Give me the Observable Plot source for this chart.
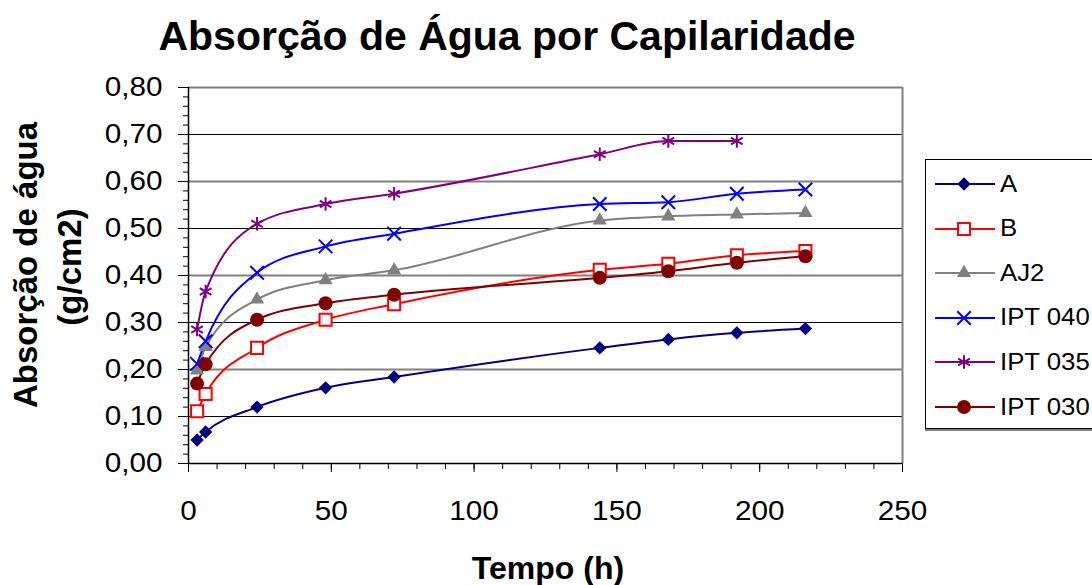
<!DOCTYPE html>
<html><head><meta charset="utf-8">
<script src="https://cdn.jsdelivr.net/npm/d3@7"></script>
<script src="https://cdn.jsdelivr.net/npm/@observablehq/plot@0.6"></script>
<style>
html,body{margin:0;padding:0;background:#fff;overflow:hidden;}
#wrap{position:relative;width:1092px;height:585px;font-family:Arial,"Liberation Sans",sans-serif;}
#chart{position:absolute;left:0;top:0;}
#overlay{position:absolute;left:0;top:0;pointer-events:none;}
#legend{position:absolute;left:925px;top:159px;width:200px;height:268px;border:1px solid #000;box-shadow:0 2px 0 #808080;background:#fff;}
.lg{position:absolute;left:0;height:40px;display:flex;align-items:center;}
.lg span{display:inline-block;font-size:23px;color:#000;margin-left:4px;white-space:nowrap;transform:scaleX(1.12);transform-origin:left center;}
</style></head><body>
<div id="wrap"><div id="chart"></div><svg id="overlay" width="1092" height="585"></svg><div id="legend"></div></div>
<script>
const times = [3, 6, 24, 48, 72, 144, 168, 192, 216];
const seriesNames = ["A", "B", "AJ2", "IPT 040", "IPT 035", "IPT 030"];
const valsA = [0.050, 0.067, 0.120, 0.161, 0.184, 0.246, 0.264, 0.278, 0.287];
const valsB = [0.111, 0.148, 0.246, 0.306, 0.339, 0.412, 0.425, 0.443, 0.452];
const valsAJ2 = [0.198, 0.248, 0.349, 0.390, 0.411, 0.517, 0.526, 0.530, 0.533];
const valsIPT040 = [0.212, 0.260, 0.406, 0.462, 0.489, 0.552, 0.556, 0.574, 0.583];
const valsIPT035 = [0.285, 0.366, 0.510, 0.552, 0.574, 0.658, 0.686, 0.686];
const valsIPT030 = [0.170, 0.211, 0.306, 0.341, 0.359, 0.395, 0.409, 0.427, 0.441];
const seriesValues = [valsA, valsB, valsAJ2, valsIPT040, valsIPT035, valsIPT030];
const colors = ["#000080", "#FF0000", "#808080", "#0000FF", "#800080", "#800000"];
const symbolNames = ["diamond2", "square", "triangle2", "times", "asterisk", "circle"];
const xTicks = [0, 50, 100, 150, 200, 250];
const yTicks = [0, 0.1, 0.2, 0.3, 0.4, 0.5, 0.6, 0.7, 0.8];
const titleText = "Absorção de Água por Capilaridade";
const yTitleLines = ["Absorção de água", "(g/cm2)"];
const xTitleText = "Tempo (h)";

const FONT = 'Arial, "Liberation Sans", sans-serif';
const xDomain = [xTicks[0], xTicks[xTicks.length - 1]];
const yDomain = [yTicks[0], yTicks[yTicks.length - 1]];
const xMinor = d3.range(xDomain[0], xDomain[1] + 0.001, 10);
const yMinor = d3.range(0, 41).map(i => i * 0.02);
const fmt = v => d3.format(".2f")(v).replace(".", ",");

function markStyle(i) {
  const s = symbolNames[i], c = colors[i];
  if (s === "square") return {fill: "white", stroke: c, strokeWidth: 2, r: 6.8};
  if (s === "times") return {fill: "none", stroke: c, strokeWidth: 2, r: 6.2};
  if (s === "asterisk") return {fill: "none", stroke: c, strokeWidth: 2, r: 6.4};
  if (s === "circle") return {fill: c, stroke: "none", r: 7};
  if (s === "triangle2") return {fill: c, stroke: "none", r: 6.8};
  return {fill: c, stroke: "none", r: 6};
}

const data = [];
seriesNames.forEach((name, i) => {
  seriesValues[i].forEach((v, j) => data.push({series: name, t: times[j], v}));
});

const gridOdd = yTicks.filter((d, i) => i % 2 === 1);
const gridEven = yTicks.filter((d, i) => i % 2 === 0 && i > 0);

const marks = [
  Plot.ruleY(gridOdd, {stroke: "#000", strokeWidth: 1}),
  Plot.ruleY(gridEven, {stroke: "#808080", strokeWidth: 2}),
  Plot.ruleX([xDomain[1]], {stroke: "#808080", strokeWidth: 2}),
  Plot.axisY({ticks: yMinor, tickSize: 5, tickFormat: () => "", label: null, stroke: "#000"}),
  Plot.axisY({ticks: yTicks, tickSize: 10, tickPadding: 16, tickFormat: fmt, label: null,
    fontSize: 27, fill: "#000", stroke: "#000", className: "mainAxis"}),
  Plot.axisX({ticks: xMinor, tickSize: 6, tickFormat: () => "", label: null, stroke: "#000"}),
  Plot.axisX({ticks: xTicks, tickSize: 9, tickPadding: 28, tickFormat: d => String(d), label: null,
    fontSize: 27, fill: "#000", stroke: "#000", className: "mainAxis"}),
  Plot.ruleX([xDomain[0]], {stroke: "#000", strokeWidth: 1.5}),
  Plot.ruleY([yDomain[0]], {stroke: "#000", strokeWidth: 1.5})
];

seriesNames.forEach((name, i) => {
  const d = data.filter(r => r.series === name);
  marks.push(Plot.line(d, {x: "t", y: "v", stroke: colors[i], strokeWidth: 2, curve: "monotone-x"}));
});
seriesNames.forEach((name, i) => {
  const d = data.filter(r => r.series === name);
  marks.push(Plot.dot(d, {x: "t", y: "v", symbol: symbolNames[i], ...markStyle(i)}));
});

const chart = Plot.plot({
  width: 1092, height: 585,
  marginLeft: 188, marginRight: 190, marginTop: 87, marginBottom: 122,
  x: {domain: xDomain, label: null},
  y: {domain: yDomain, label: null},
  style: {fontFamily: FONT, background: "transparent", color: "#000", overflow: "visible"},
  marks
});
document.getElementById("chart").appendChild(chart);

// stretch tick labels horizontally like the reference
function stretch(sel, k) {
  sel.each(function() {
    const t = this.textContent;
    if (!t) return;
    const L = this.getComputedTextLength();
    if (L > 0) {
      this.setAttribute("textLength", (L * k).toFixed(1));
      this.setAttribute("lengthAdjust", "spacingAndGlyphs");
    }
  });
}
stretch(d3.select(chart).selectAll("text"), 1.1);

// titles
const ov = d3.select("#overlay");
ov.append("text").attr("x", 507).attr("y", 50).attr("text-anchor", "middle")
  .attr("font-family", FONT).attr("font-weight", "bold").attr("font-size", 41).text(titleText);
ov.append("text").attr("transform", "translate(37,265) rotate(-90)").attr("text-anchor", "middle")
  .attr("font-family", FONT).attr("font-weight", "bold").attr("font-size", 33).text(yTitleLines[0]);
ov.append("text").attr("transform", "translate(81,267) rotate(-90)").attr("text-anchor", "middle")
  .attr("font-family", FONT).attr("font-weight", "bold").attr("font-size", 33).text(yTitleLines[1]);
ov.append("text").attr("x", 548).attr("y", 579).attr("text-anchor", "middle")
  .attr("font-family", FONT).attr("font-weight", "bold").attr("font-size", 32).text(xTitleText);

// legend
const d3sym = {diamond2: d3.symbolDiamond2, square: d3.symbolSquare, triangle2: d3.symbolTriangle2,
  times: d3.symbolTimes, asterisk: d3.symbolAsterisk, circle: d3.symbolCircle};
const legend = d3.select("#legend");
seriesNames.forEach((name, i) => {
  const row = legend.append("div").attr("class", "lg").style("top", (4 + i * 44.6) + "px");
  const svg = row.append("svg").attr("width", 70).attr("height", 40);
  svg.append("line").attr("x1", 9).attr("x2", 69).attr("y1", 20).attr("y2", 20)
    .attr("stroke", colors[i]).attr("stroke-width", 2);
  const st = markStyle(i);
  svg.append("path").attr("transform", "translate(38,20)")
    .attr("d", d3.symbol(d3sym[symbolNames[i]], st.r * st.r * Math.PI)())
    .attr("fill", st.fill).attr("stroke", st.stroke).attr("stroke-width", st.strokeWidth || 0);
  row.append("span").text(name);
});
</script>
</body></html>
